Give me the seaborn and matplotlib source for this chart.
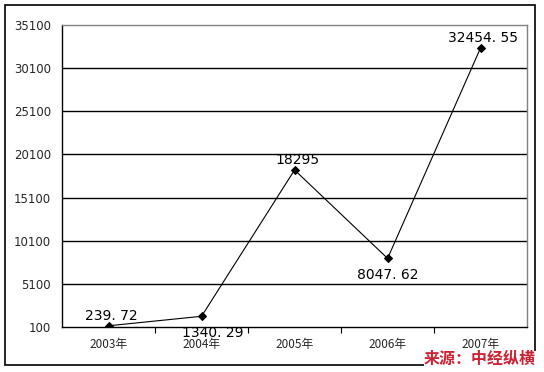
import matplotlib
matplotlib.use("Agg")
import matplotlib.pyplot as plt
import seaborn as sns
import pandas as pd
from matplotlib.patches import Rectangle

years = ["2003年", "2004年", "2005年", "2006年", "2007年"]
values = [239.72, 1340.29, 18295, 8047.62, 32454.55]
value_labels = ["239. 72", "1340. 29", "18295", "8047. 62", "32454. 55"]
y_ticks = [100, 5100, 10100, 15100, 20100, 25100, 30100, 35100]
source_text = "来源：中经纵横"

sns.set_theme(style="white")
plt.rcParams["font.family"] = ["Noto Sans CJK SC", "DejaVu Sans"]

df = pd.DataFrame({"pos": range(len(years)), "value": values})

fig = plt.figure(figsize=(5.44, 3.72), dpi=100)
ax = fig.add_axes([0.114, 0.121, 0.855, 0.812])

sns.lineplot(data=df, x="pos", y="value", ax=ax, color="black", lw=0.8,
             marker="D", markersize=4, markeredgecolor="black", sort=False)

ax.set_xlim(-0.5, len(years) - 0.5)
ax.set_ylim(y_ticks[0], y_ticks[-1])
ax.set_yticks(y_ticks)
ax.set_yticklabels([str(t) for t in y_ticks], fontsize=8.5, family="DejaVu Sans")
ax.set_xticks(range(len(years)))
ax.set_xticklabels(years, fontsize=8.5)
ax.set_xticks([i + 0.5 for i in range(len(years) - 1)], minor=True)
ax.tick_params(axis="x", which="major", length=0, pad=8)
ax.tick_params(axis="x", which="minor", length=4, width=0.8, color="black", direction="out", bottom=True)
ax.tick_params(axis="y", length=0, pad=8)
ax.set_xlabel("")
ax.set_ylabel("")

for t in y_ticks[1:-1]:
    ax.axhline(t, color="black", lw=1)

for side in ["left", "bottom"]:
    ax.spines[side].set_color("black")
    ax.spines[side].set_linewidth(1)
for side in ["top", "right"]:
    ax.spines[side].set_color("#808080")
    ax.spines[side].set_linewidth(1)

# value labels: (dx, dy) offsets in points
offsets = [(2, 7), (8, -12), (2, 7), (0, -12), (2, 7)]
for i, (v, lab) in enumerate(zip(values, value_labels)):
    dx, dy = offsets[i]
    ax.annotate(lab, (i, v), xytext=(dx, dy), textcoords="offset points",
                ha="center", va="center", fontsize=10, family="DejaVu Sans", color="black")

fig.patches.append(Rectangle((5 / 544, 1 - 365 / 372), 530 / 544, 360 / 372,
                             transform=fig.transFigure, fill=False, edgecolor="black", lw=1.2))

fig.text(0.985, 1 - 359 / 372, source_text, ha="right", va="center", fontsize=11.5,
         fontweight="bold", style="italic", color="#cc2233",
         bbox=dict(facecolor="white", edgecolor="none", pad=0))

fig.savefig("out.png", dpi=100)
